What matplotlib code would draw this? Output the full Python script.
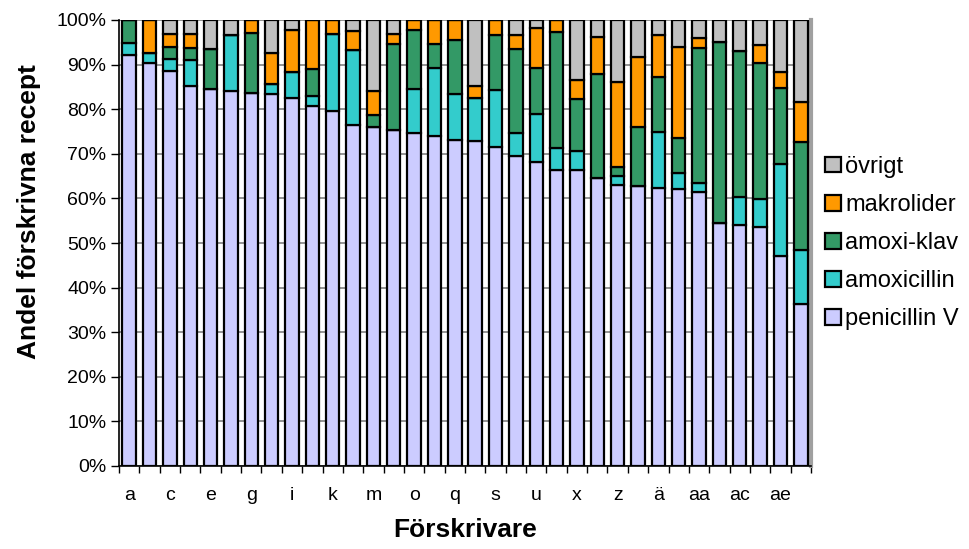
import numpy as np
import matplotlib
matplotlib.use('Agg')
import matplotlib.pyplot as plt
from matplotlib.ticker import FixedLocator, PercentFormatter

plt.rcParams['font.family'] = ['Liberation Sans', 'DejaVu Sans']

# prescribers
prescribers = ['a', 'b', 'c', 'd', 'e', 'f', 'g', 'h', 'i', 'j', 'k', 'l', 'm',
               'n', 'o', 'p', 'q', 'r', 's', 't', 'u', 'v', 'x', 'y', 'z',
               'å', 'ä', 'ö', 'aa', 'ab', 'ac', 'ad', 'ae', 'af']

# share of prescriptions (%) per drug group
penicillin_v = [92.2, 90.4, 88.6, 85.1, 84.5, 84.0, 83.6, 83.4, 82.5, 80.7, 79.7, 76.4,
                76.1, 75.3, 74.6, 74.1, 73.1, 72.9, 71.6, 69.5, 68.2, 66.4, 66.4, 64.6,
                63.0, 62.8, 62.3, 62.1, 61.4, 54.5, 54.1, 53.5, 47.1, 36.3]
amoxicillin = [2.6, 2.3, 2.7, 5.9, 0.0, 12.6, 0.0, 2.3, 5.8, 2.3, 17.1, 16.9,
               0.0, 0.0, 9.9, 15.1, 10.2, 9.7, 12.7, 5.1, 10.7, 4.9, 4.2, 0.0,
               2.0, 0.0, 12.5, 3.7, 2.1, 0.0, 6.3, 6.3, 20.6, 12.1]
amoxi_klav = [5.2, 0.0, 2.7, 2.7, 9.1, 0.0, 13.4, 0.0, 0.0, 6.1, 0.0, 0.0,
              2.5, 19.3, 13.3, 5.4, 12.2, 0.0, 12.3, 18.8, 10.3, 25.9, 11.6, 23.4,
              2.0, 13.3, 12.5, 7.7, 30.2, 40.6, 32.7, 30.5, 17.1, 24.2]
makrolider = [0.0, 7.3, 2.9, 3.1, 0.0, 0.0, 3.0, 7.0, 9.5, 10.9, 3.2, 4.2,
              5.4, 2.3, 2.2, 5.4, 4.5, 2.5, 3.4, 3.2, 8.9, 2.8, 4.3, 8.3,
              19.2, 15.5, 9.3, 20.5, 2.3, 0.0, 0.0, 4.2, 3.5, 9.0]
ovrigt = [0.0, 0.0, 3.1, 3.2, 6.4, 3.4, 0.0, 7.3, 2.2, 0.0, 0.0, 2.5,
          16.0, 3.1, 0.0, 0.0, 0.0, 14.9, 0.0, 3.4, 1.9, 0.0, 13.5, 3.7,
          13.8, 8.4, 3.4, 6.0, 4.0, 4.9, 6.9, 5.5, 11.7, 18.4]

series = [
    ('penicillin V', penicillin_v, '#CCCCFF'),
    ('amoxicillin', amoxicillin, '#33CCCC'),
    ('amoxi-klav', amoxi_klav, '#339966'),
    ('makrolider', makrolider, '#FF9900'),
    ('övrigt', ovrigt, '#C0C0C0'),
]

fig = plt.figure(figsize=(9.7, 5.49), dpi=100)
ax = fig.add_axes([119 / 970, 1 - 466 / 549, 692 / 970, 446 / 549])

x = np.arange(len(prescribers))
bottom = np.zeros(len(prescribers))
for name, vals, color in series:
    vals = np.array(vals)
    ax.bar(x, vals, bottom=bottom, width=0.66, color=color, edgecolor='black',
           linewidth=1.6, label=name, zorder=3)
    bottom += vals

ax.set_xlim(-0.5, len(prescribers) - 0.5)
ax.set_ylim(0, 100)

ax.set_yticks(np.arange(0, 101, 10))
ax.yaxis.set_major_formatter(PercentFormatter(decimals=0))
ax.yaxis.grid(True, color='#808080', linewidth=1.2, zorder=0)

ax.set_xticks(x[::2])
ax.set_xticklabels(prescribers[::2])
ax.xaxis.set_minor_locator(FixedLocator(np.arange(-0.5, len(prescribers), 1)))
ax.tick_params(axis='x', which='major', length=0, pad=15, labelsize=14)
ax.tick_params(axis='x', which='minor', length=5, width=1, direction='out')
ax.tick_params(axis='y', length=6, width=1, direction='out', labelsize=14, pad=3)

ax.spines['top'].set_visible(False)
ax.spines['right'].set_color('#A0A0A0')
ax.spines['right'].set_linewidth(3)
ax.spines['left'].set_linewidth(1.2)
ax.spines['bottom'].set_linewidth(1.2)

ax.set_ylabel('Andel förskrivna recept', fontsize=19, fontweight='bold', labelpad=8)
ax.yaxis.set_label_coords(-0.113, 0.57)
ax.set_xlabel('Förskrivare', fontsize=19, fontweight='bold', labelpad=10)

handles, labels = ax.get_legend_handles_labels()
leg = ax.legend(handles[::-1], labels[::-1], loc='center left',
                bbox_to_anchor=(1.0, 0.5), frameon=False, fontsize=17,
                handlelength=0.65, handleheight=0.65, handletextpad=0.2,
                labelspacing=0.68, borderaxespad=0.2)

fig.savefig('out.png', dpi=100)
